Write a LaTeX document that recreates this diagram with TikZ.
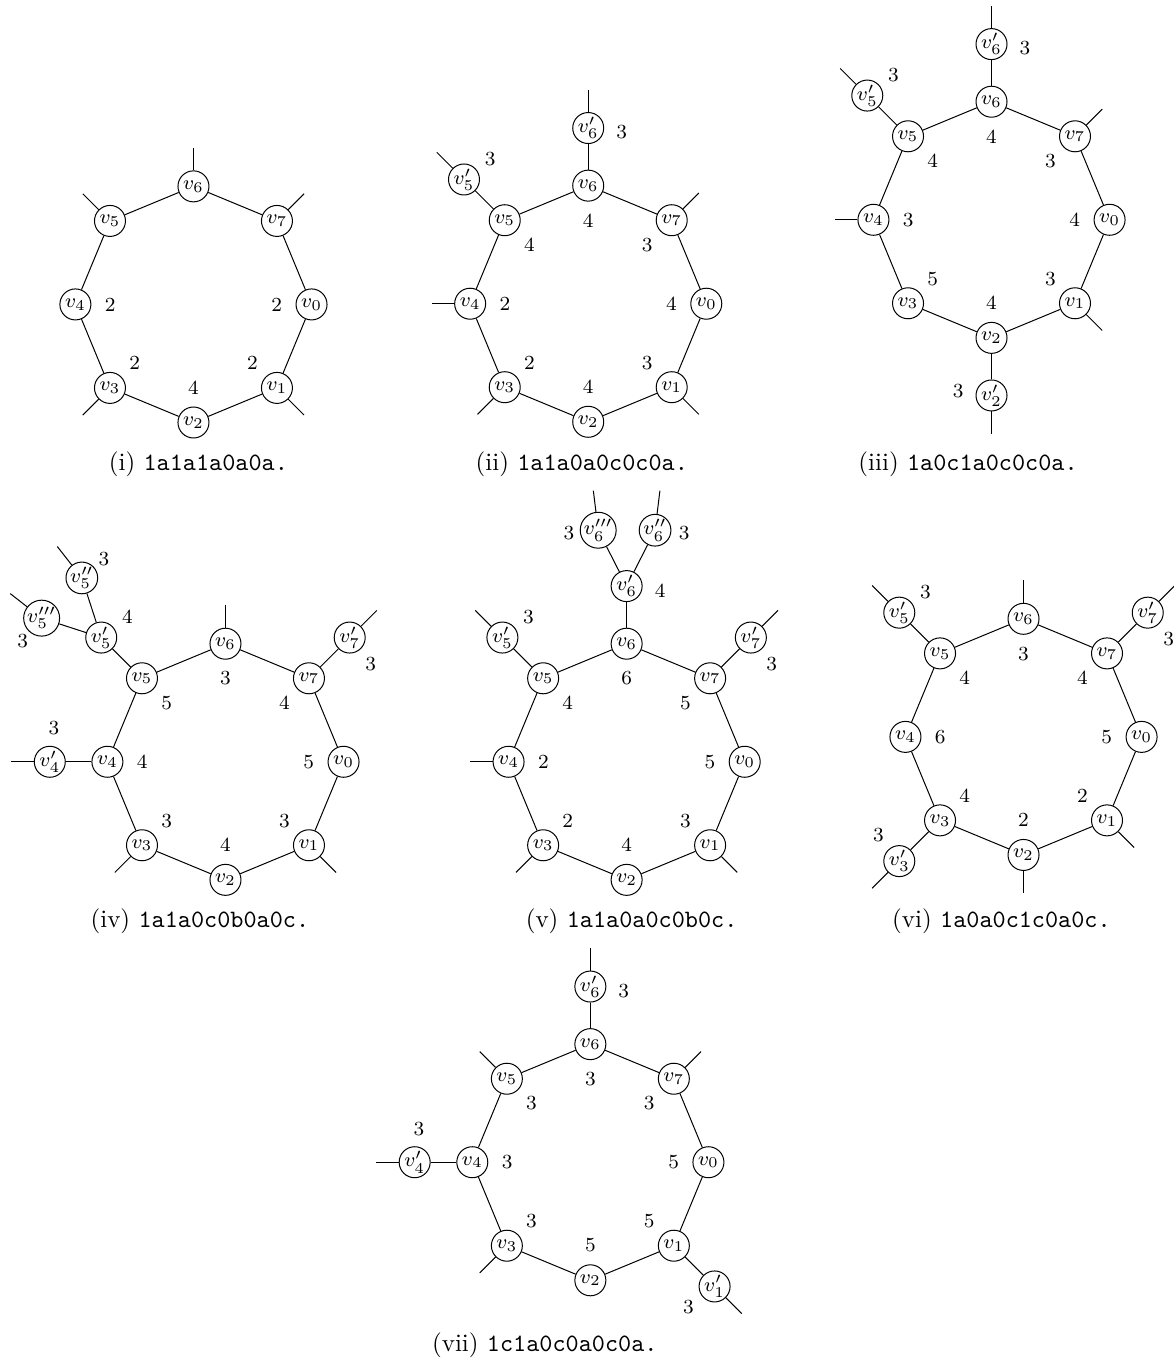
\documentclass[tikz,border=0pt]{standalone}
\usepackage{amsmath, amssymb}
\usepackage{tikz}

\begin{document}
\begin{tikzpicture}[vtx/.style={circle, draw, inner sep=0pt, minimum size=12.4pt, font=\footnotesize},
    lab/.style={font=\footnotesize}]

    \useasboundingbox (0,0) rectangle (16.505,-19.177);

    % (i)
    \begin{scope}[shift={(2.72,-4.28)}, name prefix=i-]
    \node[vtx] (v0) at (0:1.66) {$v_0$};
    \node[vtx] (v1) at (-45:1.66) {$v_1$};
    \node[vtx] (v2) at (-90:1.66) {$v_2$};
    \node[vtx] (v3) at (-135:1.66) {$v_3$};
    \node[vtx] (v4) at (180:1.66) {$v_4$};
    \node[vtx] (v5) at (135:1.66) {$v_5$};
    \node[vtx] (v6) at (90:1.66) {$v_6$};
    \node[vtx] (v7) at (45:1.66) {$v_7$};
    \draw (v0) -- (v1) -- (v2) -- (v3) -- (v4) -- (v5) -- (v6) -- (v7) -- (v0);

    \coordinate (s1) at (-45:2.2);
    \coordinate (s3) at (-135:2.2);
    \coordinate (s5) at (135:2.2);
    \coordinate (s6) at (90:2.2);
    \coordinate (s7) at (45:2.2);
    \draw (v1) -- (s1);
    \draw (v3) -- (s3);
    \draw (v5) -- (s5);
    \draw (v6) -- (s6);
    \draw (v7) -- (s7);

    \node[lab] (l0) at (0:1.17) {2};
    \node[lab] (l1) at (-45:1.17) {2};
    \node[lab] (l2) at (-90:1.17) {4};
    \node[lab] (l3) at (-135:1.17) {2};
    \node[lab] (l4) at (180:1.17) {2};

    \node (cap) at (0.07,-2.25) {(i) \texttt{1a1a1a0a0a.}};
    \end{scope}

    % (ii)
    \begin{scope}[shift={(8.27,-4.27)}, name prefix=ii-]
    \node[vtx] (v0) at (0:1.66) {$v_0$};
    \node[vtx] (v1) at (-45:1.66) {$v_1$};
    \node[vtx] (v2) at (-90:1.66) {$v_2$};
    \node[vtx] (v3) at (-135:1.66) {$v_3$};
    \node[vtx] (v4) at (180:1.66) {$v_4$};
    \node[vtx] (v5) at (135:1.66) {$v_5$};
    \node[vtx] (v6) at (90:1.66) {$v_6$};
    \node[vtx] (v7) at (45:1.66) {$v_7$};
    \draw (v0) -- (v1) -- (v2) -- (v3) -- (v4) -- (v5) -- (v6) -- (v7) -- (v0);

    \node[vtx] (v5p) at (135:2.47) {$v'_5$};
    \node[vtx] (v6p) at (90:2.47) {$v'_6$};

    \coordinate (s1) at (-45:2.2);
    \coordinate (s3) at (-135:2.2);
    \coordinate (s4) at (180:2.2);
    \coordinate (s7) at (45:2.2);
    \coordinate (s5p) at (135:3.01);
    \coordinate (s6p) at (90:3.01);
    \draw (v1) -- (s1);
    \draw (v3) -- (s3);
    \draw (v4) -- (s4);
    \draw (v7) -- (s7);
    \draw (v5) -- (v5p) -- (s5p);
    \draw (v6) -- (v6p) -- (s6p);

    \node[lab] (l0) at (0:1.17) {4};
    \node[lab] (l1) at (-45:1.17) {3};
    \node[lab] (l2) at (-90:1.17) {4};
    \node[lab] (l3) at (-135:1.17) {2};
    \node[lab] (l4) at (180:1.17) {2};
    \node[lab] (l5) at (135:1.17) {4};
    \node[lab] (l6) at (90:1.17) {4};
    \node[lab] (l7) at (45:1.17) {3};
    \node[lab] (l5p) at (-1.38,2.04) {3};
    \node[lab] (l6p) at (0.47,2.41) {3};

    \node (cap) at (-0.09,-2.25) {(ii) \texttt{1a1a0a0c0c0a.}};
    \end{scope}

    % (iii)
    \begin{scope}[shift={(13.94,-3.09)}, name prefix=iii-]
    \node[vtx] (v0) at (0:1.66) {$v_0$};
    \node[vtx] (v1) at (-45:1.66) {$v_1$};
    \node[vtx] (v2) at (-90:1.66) {$v_2$};
    \node[vtx] (v3) at (-135:1.66) {$v_3$};
    \node[vtx] (v4) at (180:1.66) {$v_4$};
    \node[vtx] (v5) at (135:1.66) {$v_5$};
    \node[vtx] (v6) at (90:1.66) {$v_6$};
    \node[vtx] (v7) at (45:1.66) {$v_7$};
    \draw (v0) -- (v1) -- (v2) -- (v3) -- (v4) -- (v5) -- (v6) -- (v7) -- (v0);

    \node[vtx] (v2p) at (-90:2.47) {$v'_2$};
    \node[vtx] (v5p) at (135:2.47) {$v'_5$};
    \node[vtx] (v6p) at (90:2.47) {$v'_6$};

    \coordinate (s1) at (-45:2.2);
    \coordinate (s4) at (180:2.2);
    \coordinate (s7) at (45:2.2);
    \coordinate (s2p) at (-90:3.01);
    \coordinate (s5p) at (135:3.01);
    \coordinate (s6p) at (90:3.01);
    \draw (v1) -- (s1);
    \draw (v4) -- (s4);
    \draw (v7) -- (s7);
    \draw (v2) -- (v2p) -- (s2p);
    \draw (v5) -- (v5p) -- (s5p);
    \draw (v6) -- (v6p) -- (s6p);

    \node[lab] (l0) at (0:1.17) {4};
    \node[lab] (l1) at (-45:1.17) {3};
    \node[lab] (l2) at (-90:1.17) {4};
    \node[lab] (l3) at (-135:1.17) {5};
    \node[lab] (l4) at (180:1.17) {3};
    \node[lab] (l5) at (135:1.17) {4};
    \node[lab] (l6) at (90:1.17) {4};
    \node[lab] (l7) at (45:1.17) {3};
    \node[lab] (l2p) at (-0.47,-2.41) {3};
    \node[lab] (l5p) at (-1.38,2.04) {3};
    \node[lab] (l6p) at (0.47,2.41) {3};

    \node (cap) at (-0.33,-3.43) {(iii) \texttt{1a0c1a0c0c0a.}};
    \end{scope}

    % (iv)
    \begin{scope}[shift={(3.17,-10.71)}, name prefix=iv-]
    \node[vtx] (v0) at (0:1.66) {$v_0$};
    \node[vtx] (v1) at (-45:1.66) {$v_1$};
    \node[vtx] (v2) at (-90:1.66) {$v_2$};
    \node[vtx] (v3) at (-135:1.66) {$v_3$};
    \node[vtx] (v4) at (180:1.66) {$v_4$};
    \node[vtx] (v5) at (135:1.66) {$v_5$};
    \node[vtx] (v6) at (90:1.66) {$v_6$};
    \node[vtx] (v7) at (45:1.66) {$v_7$};
    \draw (v0) -- (v1) -- (v2) -- (v3) -- (v4) -- (v5) -- (v6) -- (v7) -- (v0);

    \node[vtx] (v4p) at (180:2.47) {$v'_4$};
    \node[vtx] (v5p) at (135:2.47) {$v'_5$};
    \node[vtx] (v5pp) at (128:3.28) {$v''_5$};
    \node[vtx] (v5ppp) at (142:3.28) {$v'''_5$};
    \node[vtx] (v7p) at (45:2.47) {$v'_7$};

    \coordinate (s1) at (-45:2.2);
    \coordinate (s3) at (-135:2.2);
    \coordinate (s6) at (90:2.2);
    \coordinate (s4p) at (180:3.01);
    \coordinate (s5pp) at (128:3.84);
    \coordinate (s5ppp) at (142:3.84);
    \coordinate (s7p) at (45:3.01);
    \draw (v1) -- (s1);
    \draw (v3) -- (s3);
    \draw (v6) -- (s6);
    \draw (v4) -- (v4p) -- (s4p);
    \draw (v5) -- (v5p);
    \draw (v5p) -- (v5pp) -- (s5pp);
    \draw (v5p) -- (v5ppp) -- (s5ppp);
    \draw (v7) -- (v7p) -- (s7p);

    \node[lab] (l0) at (0:1.17) {5};
    \node[lab] (l1) at (-45:1.17) {3};
    \node[lab] (l2) at (-90:1.17) {4};
    \node[lab] (l3) at (-135:1.17) {3};
    \node[lab] (l4) at (180:1.17) {4};
    \node[lab] (l5) at (135:1.17) {5};
    \node[lab] (l6) at (90:1.17) {3};
    \node[lab] (l7) at (45:1.17) {4};
    \node[lab] (l4p) at (-2.41,0.47) {3};
    \node[lab] (l5p) at (-1.38,2.04) {4};
    \node[lab] (l5pp) at (-1.71,2.85) {3};
    \node[lab] (l5ppp) at (-2.85,1.70) {3};
    \node[lab] (l7p) at (2.04,1.38) {3};

    \node (cap) at (-0.36,-2.24) {(iv) \texttt{1a1a0c0b0a0c.}};
    \end{scope}

    % (v)
    \begin{scope}[shift={(8.81,-10.71)}, name prefix=v-]
    \node[vtx] (v0) at (0:1.66) {$v_0$};
    \node[vtx] (v1) at (-45:1.66) {$v_1$};
    \node[vtx] (v2) at (-90:1.66) {$v_2$};
    \node[vtx] (v3) at (-135:1.66) {$v_3$};
    \node[vtx] (v4) at (180:1.66) {$v_4$};
    \node[vtx] (v5) at (135:1.66) {$v_5$};
    \node[vtx] (v6) at (90:1.66) {$v_6$};
    \node[vtx] (v7) at (45:1.66) {$v_7$};
    \draw (v0) -- (v1) -- (v2) -- (v3) -- (v4) -- (v5) -- (v6) -- (v7) -- (v0);

    \node[vtx] (v5p) at (135:2.47) {$v'_5$};
    \node[vtx] (v6p) at (90:2.47) {$v'_6$};
    \node[vtx] (v6pp) at (83:3.28) {$v''_6$};
    \node[vtx] (v6ppp) at (97:3.28) {$v'''_6$};
    \node[vtx] (v7p) at (45:2.47) {$v'_7$};

    \coordinate (s1) at (-45:2.2);
    \coordinate (s3) at (-135:2.2);
    \coordinate (s4) at (180:2.2);
    \coordinate (s5p) at (135:3.01);
    \coordinate (s6pp) at (83:3.84);
    \coordinate (s6ppp) at (97:3.84);
    \coordinate (s7p) at (45:3.01);
    \draw (v1) -- (s1);
    \draw (v3) -- (s3);
    \draw (v4) -- (s4);
    \draw (v5) -- (v5p) -- (s5p);
    \draw (v6) -- (v6p);
    \draw (v6p) -- (v6pp) -- (s6pp);
    \draw (v6p) -- (v6ppp) -- (s6ppp);
    \draw (v7) -- (v7p) -- (s7p);

    \node[lab] (l0) at (0:1.17) {5};
    \node[lab] (l1) at (-45:1.17) {3};
    \node[lab] (l2) at (-90:1.17) {4};
    \node[lab] (l3) at (-135:1.17) {2};
    \node[lab] (l4) at (180:1.17) {2};
    \node[lab] (l5) at (135:1.17) {4};
    \node[lab] (l6) at (90:1.17) {6};
    \node[lab] (l7) at (45:1.17) {5};
    \node[lab] (l5p) at (-1.38,2.04) {3};
    \node[lab] (l6p) at (0.47,2.41) {4};
    \node[lab] (l6pp) at (0.81,3.22) {3};
    \node[lab] (l6ppp) at (-0.81,3.22) {3};
    \node[lab] (l7p) at (2.04,1.38) {3};

    \node (cap) at (0.07,-2.24) {(v) \texttt{1a1a0a0c0b0c.}};
    \end{scope}

    % (vi)
    \begin{scope}[shift={(14.39,-10.36)}, name prefix=vi-]
    \node[vtx] (v0) at (0:1.66) {$v_0$};
    \node[vtx] (v1) at (-45:1.66) {$v_1$};
    \node[vtx] (v2) at (-90:1.66) {$v_2$};
    \node[vtx] (v3) at (-135:1.66) {$v_3$};
    \node[vtx] (v4) at (180:1.66) {$v_4$};
    \node[vtx] (v5) at (135:1.66) {$v_5$};
    \node[vtx] (v6) at (90:1.66) {$v_6$};
    \node[vtx] (v7) at (45:1.66) {$v_7$};
    \draw (v0) -- (v1) -- (v2) -- (v3) -- (v4) -- (v5) -- (v6) -- (v7) -- (v0);

    \node[vtx] (v3p) at (-135:2.47) {$v'_3$};
    \node[vtx] (v5p) at (135:2.47) {$v'_5$};
    \node[vtx] (v7p) at (45:2.47) {$v'_7$};

    \coordinate (s1) at (-45:2.2);
    \coordinate (s2) at (-90:2.2);
    \coordinate (s6) at (90:2.2);
    \coordinate (s3p) at (-135:3.01);
    \coordinate (s5p) at (135:3.01);
    \coordinate (s7p) at (45:3.01);
    \draw (v1) -- (s1);
    \draw (v2) -- (s2);
    \draw (v6) -- (s6);
    \draw (v3) -- (v3p) -- (s3p);
    \draw (v5) -- (v5p) -- (s5p);
    \draw (v7) -- (v7p) -- (s7p);

    \node[lab] (l0) at (0:1.17) {5};
    \node[lab] (l1) at (-45:1.17) {2};
    \node[lab] (l2) at (-90:1.17) {2};
    \node[lab] (l3) at (-135:1.17) {4};
    \node[lab] (l4) at (180:1.17) {6};
    \node[lab] (l5) at (135:1.17) {4};
    \node[lab] (l6) at (90:1.17) {3};
    \node[lab] (l7) at (45:1.17) {4};
    \node[lab] (l3p) at (-2.04,-1.38) {3};
    \node[lab] (l5p) at (-1.38,2.04) {3};
    \node[lab] (l7p) at (2.04,1.38) {3};

    \node (cap) at (-0.31,-2.59) {(vi) \texttt{1a0a0c1c0a0c.}};
    \end{scope}

    % (vii)
    \begin{scope}[shift={(8.30,-16.34)}, name prefix=vii-]
    \node[vtx] (v0) at (0:1.66) {$v_0$};
    \node[vtx] (v1) at (-45:1.66) {$v_1$};
    \node[vtx] (v2) at (-90:1.66) {$v_2$};
    \node[vtx] (v3) at (-135:1.66) {$v_3$};
    \node[vtx] (v4) at (180:1.66) {$v_4$};
    \node[vtx] (v5) at (135:1.66) {$v_5$};
    \node[vtx] (v6) at (90:1.66) {$v_6$};
    \node[vtx] (v7) at (45:1.66) {$v_7$};
    \draw (v0) -- (v1) -- (v2) -- (v3) -- (v4) -- (v5) -- (v6) -- (v7) -- (v0);

    \node[vtx] (v1p) at (-45:2.47) {$v'_1$};
    \node[vtx] (v4p) at (180:2.47) {$v'_4$};
    \node[vtx] (v6p) at (90:2.47) {$v'_6$};

    \coordinate (s3) at (-135:2.2);
    \coordinate (s5) at (135:2.2);
    \coordinate (s7) at (45:2.2);
    \coordinate (s1p) at (-45:3.01);
    \coordinate (s4p) at (180:3.01);
    \coordinate (s6p) at (90:3.01);
    \draw (v3) -- (s3);
    \draw (v5) -- (s5);
    \draw (v7) -- (s7);
    \draw (v1) -- (v1p) -- (s1p);
    \draw (v4) -- (v4p) -- (s4p);
    \draw (v6) -- (v6p) -- (s6p);

    \node[lab] (l0) at (0:1.17) {5};
    \node[lab] (l1) at (-45:1.17) {5};
    \node[lab] (l2) at (-90:1.17) {5};
    \node[lab] (l3) at (-135:1.17) {3};
    \node[lab] (l4) at (180:1.17) {3};
    \node[lab] (l5) at (135:1.17) {3};
    \node[lab] (l6) at (90:1.17) {3};
    \node[lab] (l7) at (45:1.17) {3};
    \node[lab] (l1p) at (1.38,-2.04) {3};
    \node[lab] (l4p) at (-2.41,0.47) {3};
    \node[lab] (l6p) at (0.47,2.41) {3};

    \node (cap) at (-0.64,-2.58) {(vii) \texttt{1c1a0c0a0c0a.}};
    \end{scope}

\end{tikzpicture}
\end{document}
